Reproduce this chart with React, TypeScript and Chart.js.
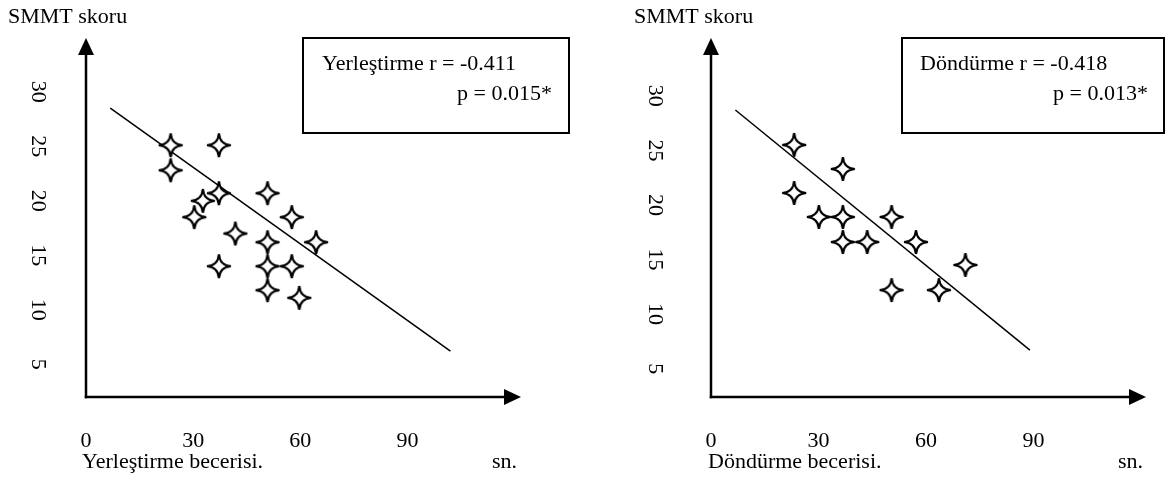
import React, { useEffect, useRef } from 'react';
import { Chart, registerables } from 'chart.js';

Chart.register(...registerables);

// ---- data ----
const xTickValues = [0, 30, 60, 90];
const yTickValues = [5, 10, 15, 20, 25, 30];

const yAxisTitle = 'SMMT skoru';
const unitLabel = 'sn.';

// Left panel: Yerleştirme (placement) skill, seconds vs SMMT score
const placementTitle = 'Yerleştirme becerisi.';
const placementStat1 = 'Yerleştirme r = -0.411';
const placementStat2 = 'p = 0.015*';
const placementSeconds = [23.7, 37.2, 23.7, 37.2, 32.7, 30.3, 50.8, 57.6, 41.8, 50.8, 64.4, 37.2, 50.8, 57.6, 50.8, 59.7];
const placementScores = [25.1, 25.1, 22.8, 20.7, 20.0, 18.5, 20.7, 18.5, 17.0, 16.2, 16.2, 14.0, 14.0, 14.0, 11.8, 11.1];
const placementFitSeconds = [6.8, 102];
const placementFitScores = [28.5, 6.2];

// Right panel: Döndürme (rotation) skill, seconds vs SMMT score
const rotationTitle = 'Döndürme becerisi.';
const rotationStat1 = 'Döndürme r = -0.418';
const rotationStat2 = 'p = 0.013*';
const rotationSeconds = [23.2, 36.8, 23.2, 30.1, 36.8, 50.4, 36.8, 43.6, 57.2, 50.4, 63.6, 71.0];
const rotationScores = [25.5, 23.3, 21.1, 18.9, 18.9, 18.9, 16.6, 16.6, 16.6, 12.2, 12.2, 14.5];
const rotationFitSeconds = [6.8, 89.0];
const rotationFitScores = [28.7, 6.7];

const FONT = '"Liberation Serif", "Times New Roman", serif';
const FS = 22;

type Panel = {
  xs: number[]; ys: number[]; fx: number[]; fy: number[];
  title: string; stat1: string; stat2: string;
  yMin: number; yMax: number; xMax: number;
  axisLeft: number; padRight: number; top: number; xAxisH: number;
  yTickPad: number; xTickPad: number;
  yTitleX: number; yTitleY: number; xTitleX: number; xTitleY: number; unitRight: number;
  box: [number, number, number, number]; s1: [number, number]; s2Right: [number, number];
};

const panels: Panel[] = [
  {
    xs: placementSeconds, ys: placementScores, fx: placementFitSeconds, fy: placementFitScores,
    title: placementTitle, stat1: placementStat1, stat2: placementStat2,
    yMin: 2.0, yMax: 34.94, xMax: 121.75,
    axisLeft: 86, padRight: 62, top: 38, xAxisH: 96,
    yTickPad: 37, xTickPad: 31,
    yTitleX: 8, yTitleY: 23, xTitleX: 82, xTitleY: 468, unitRight: 517,
    box: [303, 38, 266, 95], s1: [322, 70], s2Right: [552, 100],
  },
  {
    xs: rotationSeconds, ys: rotationScores, fx: rotationFitSeconds, fy: rotationFitScores,
    title: rotationTitle, stat1: rotationStat1, stat2: rotationStat2,
    yMin: 2.4, yMax: 35.3, xMax: 121.4,
    axisLeft: 128, padRight: 20, top: 38, xAxisH: 96,
    yTickPad: 45, xTickPad: 31,
    yTitleX: 51, yTitleY: 23, xTitleX: 125, xTitleY: 468, unitRight: 560,
    box: [319, 38, 262, 95], s1: [337, 70], s2Right: [565, 100],
  },
];

function makeStar(): HTMLCanvasElement {
  const c = document.createElement('canvas');
  c.width = 34;
  c.height = 34;
  const g = c.getContext('2d') as CanvasRenderingContext2D;
  const R = 12;
  const k = 0.8;
  g.translate(17, 17);
  g.beginPath();
  g.moveTo(0, -R);
  g.quadraticCurveTo(k, -k, R, 0);
  g.quadraticCurveTo(k, k, 0, R);
  g.quadraticCurveTo(-k, k, -R, 0);
  g.quadraticCurveTo(-k, -k, 0, -R);
  g.closePath();
  g.fillStyle = '#fff';
  g.fill();
  g.lineWidth = 2.2;
  g.miterLimit = 4;
  g.strokeStyle = '#000';
  g.stroke();
  return c;
}

function decor(p: Panel) {
  return {
    id: 'decor',
    afterDraw(chart: any) {
      const ctx: CanvasRenderingContext2D = chart.ctx;
      const { left, top, right, bottom } = chart.chartArea;
      ctx.save();
      ctx.strokeStyle = '#000';
      ctx.fillStyle = '#000';
      ctx.lineWidth = 2.5;
      // y axis with arrow
      ctx.beginPath();
      ctx.moveTo(left, bottom + 1.25);
      ctx.lineTo(left, top + 12);
      ctx.stroke();
      ctx.beginPath();
      ctx.moveTo(left, top);
      ctx.lineTo(left - 8, top + 17);
      ctx.lineTo(left + 8, top + 17);
      ctx.closePath();
      ctx.fill();
      // x axis with arrow
      ctx.beginPath();
      ctx.moveTo(left - 1.25, bottom);
      ctx.lineTo(right - 12, bottom);
      ctx.stroke();
      ctx.beginPath();
      ctx.moveTo(right, bottom);
      ctx.lineTo(right - 17, bottom - 8);
      ctx.lineTo(right - 17, bottom + 8);
      ctx.closePath();
      ctx.fill();
      // texts
      ctx.font = `${FS}px ${FONT}`;
      ctx.textBaseline = 'alphabetic';
      ctx.textAlign = 'left';
      ctx.fillText(yAxisTitle, p.yTitleX, p.yTitleY);
      ctx.fillText(p.title, p.xTitleX, p.xTitleY);
      ctx.textAlign = 'right';
      ctx.fillText(unitLabel, p.unitRight, p.xTitleY);
      // stats box
      ctx.lineWidth = 2;
      ctx.strokeRect(p.box[0], p.box[1], p.box[2], p.box[3]);
      ctx.textAlign = 'left';
      ctx.fillText(p.stat1, p.s1[0], p.s1[1]);
      ctx.textAlign = 'right';
      ctx.fillText(p.stat2, p.s2Right[0], p.s2Right[1]);
      ctx.restore();
    },
  };
}

function PanelChart({ p }: { p: Panel }) {
  const ref = useRef<HTMLCanvasElement | null>(null);
  useEffect(() => {
    if (!ref.current) return;
    const star = makeStar();
    const chart = new Chart(ref.current, {
      type: 'scatter',
      data: {
        datasets: [
          {
            data: p.xs.map((x, i) => ({ x, y: p.ys[i] })),
            pointStyle: star as any,
            pointRadius: 12,
            order: 0,
          } as any,
          {
            data: p.fx.map((x, i) => ({ x, y: p.fy[i] })),
            showLine: true,
            borderColor: '#000',
            borderWidth: 1.5,
            pointRadius: 0,
            order: 1,
          } as any,
        ],
      },
      options: {
        responsive: false,
        maintainAspectRatio: false,
        animation: false,
        events: [],
        layout: { padding: { left: 0, top: p.top, right: p.padRight, bottom: 0 } },
        plugins: { legend: { display: false }, tooltip: { enabled: false }, title: { display: false } },
        scales: {
          x: {
            type: 'linear',
            min: 0,
            max: p.xMax,
            grid: { display: false, drawTicks: false },
            border: { display: false },
            ticks: {
              padding: p.xTickPad,
              font: { family: FONT, size: FS },
              color: '#000',
              minRotation: 0,
              maxRotation: 0,
              autoSkip: false,
            },
            afterBuildTicks: (s: any) => {
              s.ticks = xTickValues.map((v) => ({ value: v }));
            },
            afterFit: (s: any) => {
              s.height = p.xAxisH;
              s.paddingLeft = 0;
              s.paddingRight = 0;
            },
          },
          y: {
            type: 'linear',
            min: p.yMin,
            max: p.yMax,
            grid: { display: false, drawTicks: false },
            border: { display: false },
            ticks: {
              padding: p.yTickPad,
              font: { family: FONT, size: FS },
              color: '#000',
              minRotation: -90,
              maxRotation: -90,
              crossAlign: 'center',
              autoSkip: false,
            },
            afterBuildTicks: (s: any) => {
              s.ticks = yTickValues.map((v) => ({ value: v }));
            },
            afterFit: (s: any) => {
              s.width = p.axisLeft;
              s.paddingTop = 0;
              s.paddingBottom = 0;
            },
          },
        },
      } as any,
      plugins: [decor(p)],
    });
    return () => chart.destroy();
  }, [p]);
  return <canvas ref={ref} width={583} height={493} style={{ display: 'block', width: 583, height: 493 }} />;
}

export default function App() {
  return (
    <div style={{ position: 'absolute', left: 0, top: 0, width: 1166, height: 493, display: 'flex', background: '#fff' }}>
      {panels.map((p, i) => (
        <PanelChart key={i} p={p} />
      ))}
    </div>
  );
}
